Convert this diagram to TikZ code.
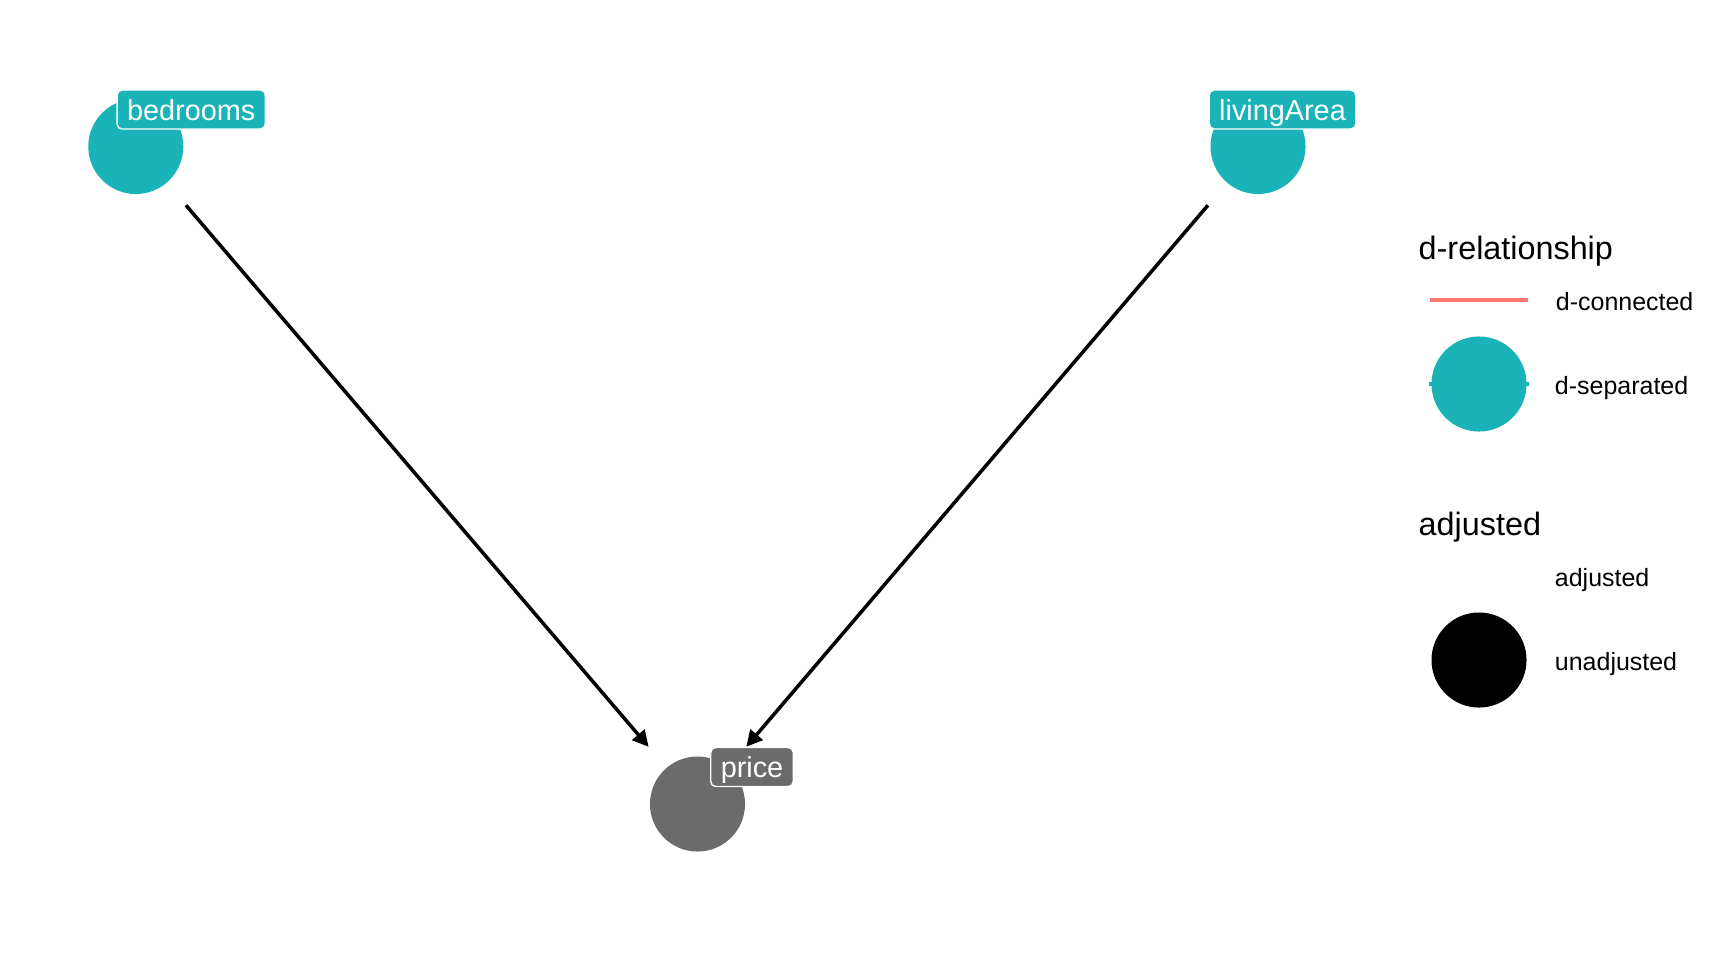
\documentclass[tikz,border=0pt]{standalone}
\usepackage{fontspec}
\setmainfont{Liberation Sans}
\usetikzlibrary{positioning, arrows.meta}
\definecolor{dsep}{RGB}{26,180,184}
\definecolor{dconn}{RGB}{248,118,109}
\definecolor{unadj}{RGB}{107,107,107}
\tikzset{vertex/.style={circle, inner sep=0pt, minimum size=0.95cm},
tag/.style={rounded corners=0.05cm, draw=white, line width=0.4pt, text=white, inner xsep=0.1cm, inner ysep=0.06cm, text height=0.24cm, text depth=0.03cm, font=\fontsize{8.2}{9}\selectfont},
line/.style={-{Triangle[length=0.16cm, width=0.16cm]}, line width=1pt, shorten >=0.27cm, shorten <=0.29cm},
keytext/.style={inner sep=0pt, text height=0.25cm, text depth=0.05cm, font=\fontsize{7.1}{9}\selectfont},
keytitle/.style={anchor=base west, inner sep=0pt, font=\fontsize{9.2}{11}\selectfont}
}

\begin{document}
\begin{tikzpicture}[x=0.01cm, y=-0.01cm, node distance=0.27cm]
\useasboundingbox (0,0) rectangle (1728,960);
% dag
\node[vertex, fill=dsep] (bedrooms) at (135.8,146.5) {};
\node[vertex, fill=dsep] (livingArea) at (1258,146.5) {};
\node[vertex, fill=unadj] (price) at (697.5,804) {};

\draw[line] (bedrooms) -- (price);
\draw[line] (livingArea) -- (price);

\node[tag, fill=dsep] (bedrooms label) at (191.2,109.5) {bedrooms};
\node[tag, fill=dsep] (livingArea label) at (1282.5,109.5) {livingArea};
\node[tag, fill=unadj] (price label) at (752,767) {price};

% legend
\node[keytitle] (title 1) at (1418,259.5) {d-relationship};
\node[minimum width=0.97cm, minimum height=0.95cm, inner sep=0pt] (key 1) at (1479,300) {};
\draw[dconn, line width=1.1pt] (key 1.west) -- (key 1.east);
\node[keytext, right=of key 1] (key 1 text) {d-connected};
\node[vertex, fill=dsep] (key 2) at (1479,384) {};
\draw[dsep, line width=1.1pt] ([xshift=-0.02cm]key 2.west) -- ([xshift=0.02cm]key 2.east);
\node[keytext, right=of key 2] (key 2 text) {d-separated};

\node[keytitle] (title 2) at (1418,535) {adjusted};
\node[vertex] (key 3) at (1479,576) {};
\node[keytext, right=of key 3] (key 3 text) {adjusted};
\node[vertex, fill=black] (key 4) at (1479,660) {};
\node[keytext, right=of key 4] (key 4 text) {unadjusted};
\end{tikzpicture}
\end{document}
